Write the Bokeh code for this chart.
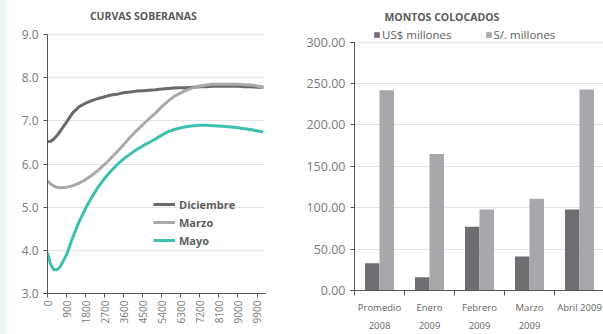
import numpy as np
from bokeh.plotting import figure
from bokeh.layouts import row, column
from bokeh.models import (ColumnDataSource, Legend, LegendItem, FixedTicker, NumeralTickFormatter,
                          Range1d, Label, Spacer)
from bokeh.transform import dodge
from bokeh.embed import file_html
from bokeh.resources import INLINE

# ---------------- data: CURVAS SOBERANAS ----------------
dias = [0, 150, 300, 450, 600, 900, 1200, 1500, 1800, 2100, 2400, 2700, 3000, 3300, 3600,
        3900, 4200, 4500, 4800, 5100, 5400, 5700, 6000, 6300, 6600, 6900, 7200, 7500, 7800,
        8100, 8400, 8700, 9000, 9300, 9600, 9900, 10200]
diciembre = [6.52, 6.53, 6.58, 6.66, 6.76, 6.97, 7.19, 7.33, 7.41, 7.47, 7.52, 7.56, 7.60, 7.62,
             7.65, 7.67, 7.69, 7.70, 7.71, 7.72, 7.74, 7.75, 7.76, 7.77, 7.77, 7.78, 7.79, 7.79,
             7.80, 7.80, 7.80, 7.80, 7.80, 7.79, 7.79, 7.78, 7.78]
marzo = [5.61, 5.54, 5.49, 5.46, 5.45, 5.46, 5.50, 5.56, 5.64, 5.74, 5.86, 5.99, 6.14, 6.29,
         6.45, 6.62, 6.77, 6.91, 7.05, 7.18, 7.33, 7.46, 7.57, 7.65, 7.72, 7.77, 7.81, 7.83,
         7.85, 7.85, 7.85, 7.85, 7.85, 7.84, 7.83, 7.81, 7.78]
mayo = [3.94, 3.67, 3.55, 3.55, 3.62, 3.90, 4.31, 4.67, 4.97, 5.24, 5.47, 5.67, 5.84, 5.99,
        6.12, 6.23, 6.33, 6.42, 6.50, 6.58, 6.67, 6.75, 6.80, 6.84, 6.87, 6.89, 6.90, 6.90,
        6.89, 6.88, 6.87, 6.86, 6.84, 6.82, 6.80, 6.77, 6.74]
x_ticks_dias = [0, 900, 1800, 2700, 3600, 4500, 5400, 6300, 7200, 8100, 9000, 9900]
y_ticks_tasa = [3.0, 4.0, 5.0, 6.0, 7.0, 8.0, 9.0]

# ---------------- data: MONTOS COLOCADOS ----------------
categorias = ["Promedio\n2008", "Enero\n2009", "Febrero\n2009", "Marzo\n2009", "Abril 2009"]
usd_millones = [33, 16, 77, 41, 98]
soles_millones = [242, 165, 98, 111, 243]
y_ticks_montos = [0, 50, 100, 150, 200, 250, 300]

FONT = "Open Sans"
C_DIC, C_MAR, C_MAY = "#6a696e", "#a9a8ac", "#3fbfae"
C_BAR1, C_BAR2 = "#6e6d72", "#a8a7ac"
AX = "#555555"
TICK_TXT = "#7a7a7a"
GRID = "#c8c8c8"
TITLE_C = "#5a5a5a"

# ---------------- left chart ----------------
p1 = figure(width=294, height=327, output_backend="svg", toolbar_location=None, title=None,
            x_range=Range1d(0, 10300), y_range=Range1d(3.0, 9.79),
            min_border_left=41, min_border_right=35, min_border_top=0, min_border_bottom=34)
p1.outline_line_color = None
p1.background_fill_color = "white"
p1.border_fill_color = "white"

src1 = ColumnDataSource(dict(d=dias, dic=diciembre, mar=marzo, may=mayo))
r_dic = p1.line("d", "dic", source=src1, line_color=C_DIC, line_width=3)
r_mar = p1.line("d", "mar", source=src1, line_color=C_MAR, line_width=3)
r_may = p1.line("d", "may", source=src1, line_color=C_MAY, line_width=3)

p1.xaxis.ticker = FixedTicker(ticks=x_ticks_dias)
p1.xaxis.major_label_orientation = np.pi / 2
p1.xaxis.major_label_text_font = FONT
p1.xaxis.major_label_text_font_size = "10px"
p1.xaxis.major_label_text_color = TICK_TXT
p1.xaxis.major_label_standoff = 3
p1.xaxis.axis_line_color = AX
p1.xaxis.major_tick_line_color = AX
p1.xaxis.major_tick_out = 4
p1.xaxis.major_tick_in = 0
p1.xaxis.minor_tick_line_color = None
p1.yaxis.ticker = FixedTicker(ticks=y_ticks_tasa)
p1.yaxis.bounds = (3.0, 9.0)
p1.yaxis.formatter = NumeralTickFormatter(format="0.0")
p1.yaxis.major_label_text_font = FONT
p1.yaxis.major_label_text_font_size = "12px"
p1.yaxis.major_label_text_color = TICK_TXT
p1.yaxis.axis_line_color = AX
p1.yaxis.major_tick_line_color = AX
p1.yaxis.major_tick_out = 4
p1.yaxis.major_tick_in = 0
p1.yaxis.minor_tick_line_color = None
p1.xgrid.grid_line_color = None
p1.ygrid.grid_line_color = GRID
p1.ygrid.grid_line_dash = "1 1"
p1.ygrid.ticker = FixedTicker(ticks=y_ticks_tasa)

leg1 = Legend(items=[LegendItem(label="Diciembre", renderers=[r_dic]),
                     LegendItem(label="Marzo", renderers=[r_mar]),
                     LegendItem(label="Mayo", renderers=[r_may])],
              location=(106, 44), background_fill_alpha=0, border_line_alpha=0,
              padding=0, margin=0, spacing=0, glyph_width=22, glyph_height=18,
              label_height=18, label_standoff=4, label_text_font=FONT,
              label_text_font_size="11px", label_text_font_style="bold",
              label_text_color="#5e5e5e")
p1.add_layout(leg1)
p1.add_layout(Label(x=10550, y=2.63, text="Dias", text_font=FONT, text_font_size="10px",
                    text_color=TICK_TXT, text_baseline="middle"))
p1.add_layout(Label(x=4530, y=9.44, text="CURVAS SOBERANAS", text_font=FONT,
                    text_font_size="10.5px", text_font_style="bold", text_color=TITLE_C,
                    text_align="center", text_baseline="middle"))

# ---------------- right chart ----------------
xcat = [i + 0.5 for i in range(len(categorias))]
src2 = ColumnDataSource(dict(x=xcat, usd=usd_millones, pen=soles_millones))
p2 = figure(width=303, height=334, output_backend="svg", toolbar_location=None, title=None,
            x_range=Range1d(0, 4.98), y_range=Range1d(0, 350.4),
            min_border_left=54, min_border_right=0, min_border_top=0, min_border_bottom=34)
p2.outline_line_color = None
p2.border_fill_color = "white"

b1 = p2.vbar(x=dodge("x", -0.145, range=p2.x_range), top="usd", width=0.29, source=src2,
             fill_color=C_BAR1, line_color=None)
b2 = p2.vbar(x=dodge("x", 0.145, range=p2.x_range), top="pen", width=0.29, source=src2,
             fill_color=C_BAR2, line_color=None)

p2.xaxis.ticker = FixedTicker(ticks=xcat, minor_ticks=list(range(len(categorias) + 1)))
p2.xaxis.major_label_overrides = {x: c for x, c in zip(xcat, categorias)}
p2.xaxis.major_tick_line_color = None
p2.xaxis.minor_tick_line_color = AX
p2.xaxis.minor_tick_out = 5
p2.xaxis.minor_tick_in = 0
p2.xaxis.major_label_standoff = 4
p2.xaxis.major_label_text_font = FONT
p2.xaxis.major_label_text_font_size = "9.5px"
p2.xaxis.major_label_text_line_height = 1.4
p2.xaxis.major_label_text_color = "#666666"
p2.xaxis.axis_line_color = AX
p2.yaxis.ticker = FixedTicker(ticks=y_ticks_montos)
p2.yaxis.bounds = (0, 300)
p2.yaxis.formatter = NumeralTickFormatter(format="0.00")
p2.yaxis.major_label_text_font = FONT
p2.yaxis.major_label_text_font_size = "12.5px"
p2.yaxis.major_label_text_color = TICK_TXT
p2.yaxis.axis_line_color = AX
p2.yaxis.major_tick_line_color = AX
p2.yaxis.major_tick_out = 4
p2.yaxis.major_tick_in = 0
p2.yaxis.minor_tick_line_color = None
p2.xgrid.grid_line_color = None
p2.ygrid.grid_line_color = GRID
p2.ygrid.grid_line_dash = "1 1"
p2.ygrid.ticker = FixedTicker(ticks=y_ticks_montos)

leg2 = Legend(items=[LegendItem(label="US$ millones", renderers=[b1]),
                     LegendItem(label="S/. millones", renderers=[b2])],
              orientation="horizontal", location=(19, 248), background_fill_alpha=0,
              border_line_alpha=0, padding=0, margin=0, spacing=33, glyph_width=7,
              glyph_height=7, label_height=14, label_standoff=2, label_text_font=FONT,
              label_text_font_size="11.5px", label_text_color="#5e5e5e")
p2.add_layout(leg2)
p2.add_layout(Label(x=1.747, y=331, text="MONTOS COLOCADOS", text_font=FONT,
                    text_font_size="10.5px", text_font_style="bold", text_color=TITLE_C,
                    text_align="center", text_baseline="middle"))

strip = Spacer(width=6, height=334, styles={"background-color": "#eef7f6"})
layout = row(strip, column(p1), column(p2), spacing=0)
open("out.html", "w").write(file_html(layout, INLINE))
